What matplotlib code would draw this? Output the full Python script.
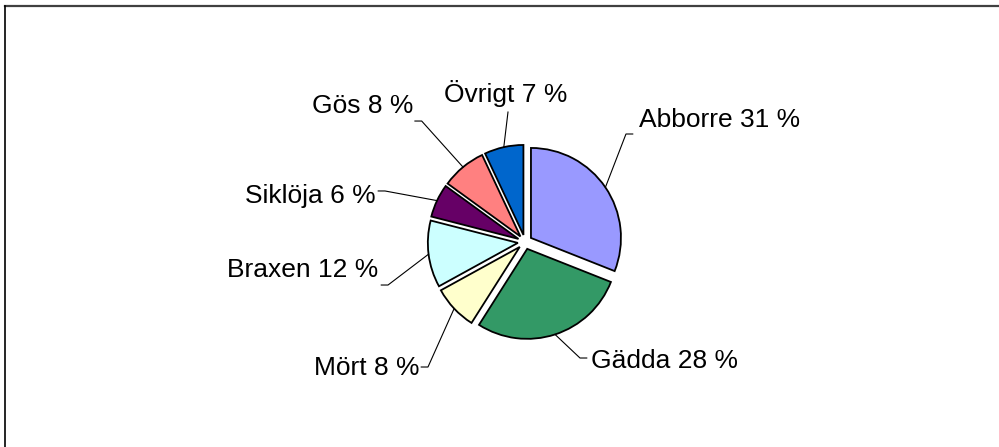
import numpy as np
import matplotlib.pyplot as plt
from matplotlib.lines import Line2D

# Data
species = ["Abborre", "Gädda", "Mört", "Braxen", "Siklöja", "Gös", "Övrigt"]
shares = [31, 28, 8, 12, 6, 8, 7]
colors = ["#9999FF", "#339966", "#FFFFCC", "#CCFFFF", "#660066", "#FF8080", "#0066CC"]

# Layout (data units, pie radius = 1)
label_xy = [(1.267, 1.278), (0.73, -1.40), (-1.167, -1.478), (-1.633, -0.389),
            (-1.656, 0.433), (-1.244, 1.433), (-0.217, 1.559)]
label_ha = ["left", "left", "right", "right", "right", "right", "center"]
elbow_xy = [(1.122, 1.20), (0.611, -1.289), (-1.078, -1.389), (-1.522, -0.478),
            (-1.556, 0.567), (-1.148, 1.344), (-0.189, 1.444)]

W, H = 999, 447
cx, cy, rpx = 525, 242, 90

fig = plt.figure(figsize=(W / 100, H / 100), dpi=100)
ax = fig.add_axes([0, 0, 1, 1])

wedges, _ = ax.pie(shares, colors=colors, startangle=90, counterclock=False,
                   explode=[0.08] * len(shares), radius=1,
                   wedgeprops=dict(edgecolor="black", linewidth=1.3))

ax.set_xlim(-cx / rpx, (W - cx) / rpx)
ax.set_ylim(-(H - cy) / rpx, cy / rpx)
ax.axis("off")

for w, name, pct, (tx, ty), ha, (ex, ey) in zip(wedges, species, shares, label_xy,
                                                 label_ha, elbow_xy):
    mid = np.deg2rad((w.theta1 + w.theta2) / 2)
    px = w.center[0] + w.r * np.cos(mid)
    py = w.center[1] + w.r * np.sin(mid)
    if ha == "left":
        end = (ex + 0.075, ey)
    elif ha == "right":
        end = (ex - 0.075, ey)
    else:
        end = (ex, ey)
    ax.plot([px, ex, end[0]], [py, ey, end[1]], color="black", lw=0.8)
    ax.text(tx, ty, f"{name} {pct} %", ha=ha, va="baseline",
            fontsize=19, family="Liberation Sans", color="black")

# chart frame (top and left edges visible)
fig.add_artist(Line2D([5 / W, 1], [1 - 6 / H, 1 - 6 / H], color="#404040", lw=1.6))
fig.add_artist(Line2D([5 / W, 5 / W], [0, 1 - 6 / H], color="black", lw=1.2))

fig.savefig("out.png", dpi=100, facecolor="white")
